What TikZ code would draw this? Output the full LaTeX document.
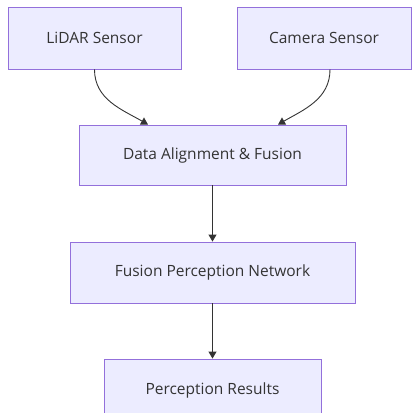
\documentclass[tikz,border=0pt]{standalone}
\usepackage{fontspec}
\setmainfont{Open Sans}
\usetikzlibrary{arrows.meta}
\definecolor{boxfill}{HTML}{ECECFF}
\definecolor{boxline}{HTML}{9370DB}
\definecolor{ink}{HTML}{333333}
\begin{document}
\begin{tikzpicture}[x=1pt,y=-1pt,
	every node/.style={font=\fontsize{15.5}{18}\selectfont,text=ink},
	block/.style={draw=boxline,fill=boxfill,line width=0.9pt,inner sep=0pt},
	flow/.style={draw=ink,line width=0.9pt,-{Triangle[length=7pt,width=8pt]}}]
	\useasboundingbox (0,0) rectangle (413,413);

	\node[block,minimum width=173pt,minimum height=62pt] (lidar) at (94.5,38) {LiDAR Sensor};
	\node[block,minimum width=174pt,minimum height=62pt] (camera) at (324,38) {Camera Sensor};
	\node[block,minimum width=267pt,minimum height=60pt] (align) at (212.5,155) {Data Alignment \& Fusion};
	\node[block,minimum width=285pt,minimum height=61pt] (fpn) at (212.5,272.5) {Fusion Perception Network};
	\node[block,minimum width=217pt,minimum height=62pt] (results) at (212.5,390) {Perception Results};

	\draw[flow] (lidar.south) to[out=-90,in=150] ([xshift=-64.5pt]align.north);
	\draw[flow] ([xshift=6pt]camera.south) to[out=-90,in=30] ([xshift=65.5pt]align.north);
	\draw[flow] (align) -- (fpn);
	\draw[flow] (fpn) -- (results);
\end{tikzpicture}
\end{document}
